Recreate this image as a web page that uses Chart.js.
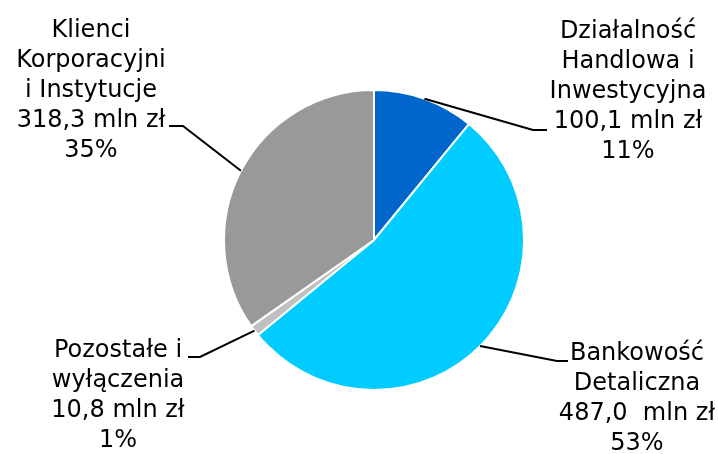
<!DOCTYPE html>
<html>
<head>
<meta charset="utf-8">
<script src="https://cdn.jsdelivr.net/npm/chart.js@4"></script>
<style>
  html, body { margin: 0; padding: 0; background: #fff; }
  #wrap { width: 718px; height: 454px; }
</style>
</head>
<body>
<div id="wrap"><canvas id="chart" width="718" height="454"></canvas></div>
<script>
const segments = [
  ["Działalność", "Handlowa i", "Inwestycyjna"],
  ["Bankowość", "Detaliczna"],
  ["Pozostałe i", "wyłączenia"],
  ["Klienci", "Korporacyjni", "i Instytucje"],
];
const values = [100.1, 487.0, 10.8, 318.3];
const valueLabels = ["100,1 mln zł", "487,0  mln zł", "10,8 mln zł", "318,3 mln zł"];
const colors = ["#0066CC", "#00CCFF", "#C0C0C0", "#999999"];

// where each label block sits: elbow, end of leader, text centre, first baseline
const labelLayout = [
  { elbow: [533, 130], end: [547, 130], cx: 628, top: 38 },
  { elbow: [557, 361], end: [568, 361], cx: 637, top: 360 },
  { elbow: [200, 357], end: [188, 357], cx: 118, top: 357 },
  { elbow: [183, 126], end: [169, 126], cx: 91, top: 37 },
];
const FONT = "24px 'DejaVu Sans', sans-serif";
const LINE_H = 30;

const total = values.reduce((a, b) => a + b, 0);

const calloutPlugin = {
  id: "callouts",
  afterDatasetsDraw(chart) {
    const ctx = chart.ctx;
    const arcs = chart.getDatasetMeta(0).data;
    ctx.save();
    ctx.strokeStyle = "#000";
    ctx.lineWidth = 2;
    ctx.font = FONT;
    ctx.fillStyle = "#000";
    ctx.textAlign = "center";
    ctx.textBaseline = "alphabetic";
    arcs.forEach((arc, i) => {
      const { x, y, startAngle, endAngle, outerRadius } = arc.getProps(
        ["x", "y", "startAngle", "endAngle", "outerRadius"], true);
      const mid = (startAngle + endAngle) / 2;
      const sx = x + Math.cos(mid) * outerRadius;
      const sy = y + Math.sin(mid) * outerRadius;
      const L = labelLayout[i];
      ctx.beginPath();
      ctx.moveTo(sx, sy);
      ctx.lineTo(L.elbow[0], L.elbow[1]);
      ctx.lineTo(L.end[0], L.end[1]);
      ctx.stroke();

      const pct = Math.round((values[i] / total) * 100) + "%";
      const lines = [...segments[i], valueLabels[i], pct];
      lines.forEach((t, k) => ctx.fillText(t, L.cx, L.top + k * LINE_H));
    });
    ctx.restore();
  },
};

new Chart(document.getElementById("chart"), {
  type: "pie",
  data: {
    labels: segments.map((s) => s.join(" ")),
    datasets: [{
      data: values,
      backgroundColor: colors,
      borderColor: "#fff",
      borderWidth: 2,
      hoverOffset: 0,
      radius: 150,
    }],
  },
  options: {
    responsive: false,
    animation: false,
    layout: { padding: { left: 30, top: 26, right: 0, bottom: 0 } },
    plugins: { legend: { display: false }, tooltip: { enabled: false } },
  },
  plugins: [calloutPlugin],
});
</script>
</body>
</html>
